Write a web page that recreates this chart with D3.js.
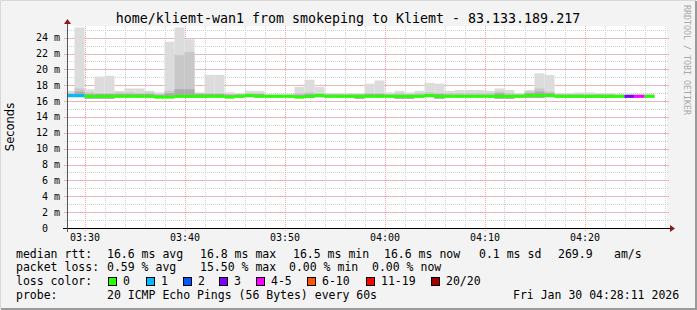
<!DOCTYPE html>
<html>
<head>
<meta charset="utf-8">
<script src="https://cdn.jsdelivr.net/npm/d3@7"></script>
<style>
  body { margin: 0; background: #f3f3f3; }
  text { font-family: "DejaVu Sans Mono", monospace; }
</style>
</head>
<body>
<div id="graph_div"></div>
<script>
// one column per minute, first column starts 03:28
let firstMinute = new Date(2026, 0, 30, 3, 28, 0)

// max ping of the 20 (outer smoke)
let smokeMax = [17.3, 25.3, 17.5, 19.1, 19.2, 17.3, 17.6, 17.6, 17.3, 17.1,
                23.5, 25.3, 23.8, 17.1, 19.3, 19.3, 17.1, 17.0, 17.3, 17.3,
                16.9, 16.9, 16.9, 17.8, 18.7, 17.8, 17.0, 17.0, 17.0, 17.0,
                18.2, 18.6, 17.1, 17.3, 17.1, 17.3, 18.3, 18.2, 17.3, 17.4,
                17.4, 17.4, 17.3, 17.6, 17.4, 17.0, 17.4, 19.5, 19.3, 17.0,
                17.0, 17.1, 17.1, 17.0, 17.0, 16.9, 16.9, 16.9, 16.9]
// upper edge of the middle smoke band
let smokeMid = [17.0, 17.6, 17.1, 17.0, 17.0, 17.1, 17.1, 17.0, 17.1, 16.9,
                17.3, 21.8, 22.2, 17.0, 17.0, 17.0, 16.9, 16.9, 17.0, 17.0,
                16.8, 16.8, 16.8, 17.0, 17.1, 17.0, 16.9, 16.9, 16.9, 16.9,
                17.0, 17.0, 16.9, 17.0, 16.9, 17.0, 17.1, 17.0, 17.0, 17.0,
                17.0, 17.0, 17.0, 17.2, 17.0, 16.9, 17.2, 17.6, 17.2, 16.9,
                16.9, 16.9, 16.9, 16.9, 16.9, 16.8, 16.8, 16.8, 16.8]
// upper edge of the inner smoke band
let smokeInner = [16.9, 17.2, 16.9, 16.9, 16.9, 16.9, 16.9, 16.9, 16.9, 16.8,
                  17.0, 17.5, 17.5, 16.9, 16.9, 16.9, 16.8, 16.8, 16.9, 16.9,
                  16.7, 16.7, 16.7, 16.8, 16.9, 16.9, 16.8, 16.8, 16.8, 16.8,
                  16.9, 16.9, 16.8, 16.8, 16.8, 16.8, 16.9, 16.9, 16.8, 16.8,
                  16.8, 16.8, 16.8, 17.0, 16.8, 16.8, 17.0, 17.2, 17.0, 16.8,
                  16.8, 16.8, 16.8, 16.8, 16.8, 16.7, 16.7, 16.7, 16.7]
// min ping of the 20
let smokeMin = [16.5, 16.5, 16.3, 16.3, 16.3, 16.5, 16.5, 16.5, 16.5, 16.4,
                16.5, 16.5, 16.4, 16.4, 16.5, 16.5, 16.5, 16.5, 16.5, 16.5,
                16.5, 16.5, 16.5, 16.4, 16.4, 16.5, 16.5, 16.5, 16.5, 16.3,
                16.5, 16.5, 16.5, 16.3, 16.3, 16.5, 16.5, 16.3, 16.5, 16.5,
                16.5, 16.5, 16.5, 16.3, 16.3, 16.5, 16.4, 16.4, 16.5, 16.5,
                16.4, 16.4, 16.4, 16.4, 16.4, 16.5, 16.4, 16.5, 16.5]
let median = [16.7, 16.7, 16.6, 16.6, 16.6, 16.6, 16.6, 16.6, 16.6, 16.5,
              16.5, 16.6, 16.6, 16.6, 16.6, 16.6, 16.5, 16.6, 16.7, 16.6,
              16.6, 16.6, 16.6, 16.5, 16.6, 16.7, 16.6, 16.6, 16.6, 16.6,
              16.6, 16.6, 16.6, 16.6, 16.6, 16.6, 16.7, 16.6, 16.6, 16.6,
              16.6, 16.6, 16.6, 16.6, 16.6, 16.6, 16.7, 16.7, 16.7, 16.6,
              16.6, 16.6, 16.6, 16.6, 16.6, 16.6, 16.6, 16.6, 16.6]
// index into lossLabels / lossColors
let lossIdx = [1, 1, 0, 0, 0, 0, 0, 0, 0, 0,
               0, 0, 0, 0, 0, 0, 0, 0, 0, 0,
               0, 0, 0, 0, 0, 0, 0, 0, 0, 0,
               0, 0, 0, 0, 0, 0, 0, 0, 0, 0,
               0, 0, 0, 0, 0, 0, 0, 0, 0, 0,
               0, 0, 0, 0, 0, 0, 3, 4, 0]

let lossLabels = ["0", "1", "2", "3", "4-5", "6-10", "11-19", "20/20"]
let lossColors = ["#26ff00", "#00b8ff", "#0059ff", "#7e00ff", "#ff00ff", "#ff5500", "#ff0000", "#a10000"]

let yTickValues = [0, 2, 4, 6, 8, 10, 12, 14, 16, 18, 20, 22, 24]
let xTickLabels = ["03:30", "03:40", "03:50", "04:00", "04:10", "04:20"]

let title = "home/kliemt-wan1 from smokeping to Kliemt - 83.133.189.217"

let width = 697
let height = 310

window.onload = function() {
  draw()
}

function draw() {

  let left = 67, right = 667, top = 26, bottom = 228

  let svg = d3.select("#graph_div")
    .append("svg")
    .attr("width", width)
    .attr("height", height)

  // background + 3d border
  svg.append("rect").attr("width", width).attr("height", height).attr("fill", "#f3f3f3")
  svg.append("path").attr("d", "M0.5," + (height - 1) + "V0.5H" + (width - 1))
    .attr("stroke", "#d8d8d8").attr("fill", "none")
  svg.append("path").attr("d", "M1," + (height - 1) + "H" + (width - 1) + "V1")
    .attr("stroke", "#9a9a9a").attr("stroke-width", 2).attr("fill", "none")

  let x = d3.scaleTime()
    .domain([new Date(2026, 0, 30, 3, 28, 15), new Date(2026, 0, 30, 4, 28, 15)])
    .range([left, right])

  let y = d3.scaleLinear()
    .domain([0, (bottom - top) / 7.93])
    .range([bottom, top])

  svg.append("rect")
    .attr("x", left).attr("y", top)
    .attr("width", right - left).attr("height", bottom - top)
    .attr("fill", "white")

  // minor grid
  let minorX = d3.timeMinute.every(2).range(x.domain()[0], x.domain()[1])
  svg.append("g").selectAll("line")
    .data(minorX)
    .join("line")
      .attr("x1", d => Math.round(x(d)) + 0.5)
      .attr("x2", d => Math.round(x(d)) + 0.5)
      .attr("y1", top)
      .attr("y2", bottom + 2)
      .attr("stroke", "#cfcfcf")
      .attr("stroke-dasharray", "1,1")

  let minorY = d3.range(1, 26, 1)
  svg.append("g").selectAll("line")
    .data(minorY)
    .join("line")
      .attr("x1", left - 2)
      .attr("x2", right + 2)
      .attr("y1", d => Math.round(y(d)) + 0.5)
      .attr("y2", d => Math.round(y(d)) + 0.5)
      .attr("stroke", "#cfcfcf")
      .attr("stroke-dasharray", "1,1")

  // major grid
  let majorX = d3.timeMinute.every(10).range(x.domain()[0], x.domain()[1])
  svg.append("g").selectAll("line")
    .data(majorX)
    .join("line")
      .attr("x1", d => Math.round(x(d)) + 0.5)
      .attr("x2", d => Math.round(x(d)) + 0.5)
      .attr("y1", top)
      .attr("y2", bottom + 3)
      .attr("stroke", "#f4a4a4")
      .attr("stroke-dasharray", "1,1")

  svg.append("g").selectAll("line")
    .data(yTickValues.filter(d => d > 0))
    .join("line")
      .attr("x1", left - 3)
      .attr("x2", right + 3)
      .attr("y1", d => Math.round(y(d)) + 0.5)
      .attr("y2", d => Math.round(y(d)) + 0.5)
      .attr("stroke", "#f4a4a4")
      .attr("stroke-dasharray", "1,1")

  // smoke + median
  let cols = median.map((m, i) => {
    let t0 = d3.timeMinute.offset(firstMinute, i)
    return {t0: t0, t1: d3.timeMinute.offset(t0, 1), i: i}
  })

  svg.append("clipPath").attr("id", "plotclip")
    .append("rect").attr("x", left).attr("y", top)
    .attr("width", right - left).attr("height", bottom - top)

  let plot = svg.append("g").attr("clip-path", "url(#plotclip)")

  const band = function(lo, hi, color) {
    plot.append("g").selectAll("rect")
      .data(cols)
      .join("rect")
        .attr("x", d => x(d.t0))
        .attr("width", d => x(d.t1) - x(d.t0))
        .attr("y", d => y(hi[d.i]))
        .attr("height", d => Math.max(0, y(lo[d.i]) - y(hi[d.i])))
        .attr("fill", color)
  }
  band(smokeMin, smokeMax, "#dcdcdc")
  band(smokeMin, smokeMid, "#c8c8c8")
  band(smokeMin, smokeInner, "#acacac")

  plot.append("g").selectAll("rect")
    .data(cols)
    .join("rect")
      .attr("x", d => x(d.t0))
      .attr("width", d => x(d.t1) - x(d.t0))
      .attr("y", d => y(median[d.i]) - 1.5)
      .attr("height", 3)
      .attr("fill", d => lossColors[lossIdx[d.i]])

  // axes
  svg.append("line")
    .attr("x1", left - 4).attr("x2", right + 3)
    .attr("y1", bottom + 0.5).attr("y2", bottom + 0.5)
    .attr("stroke", "#000")
  svg.append("path")
    .attr("d", "M" + (right + 3) + "," + (bottom - 3) + "l5,3.5l-5,3.5z")
    .attr("fill", "#8b1a1a")
  svg.append("line")
    .attr("x1", left + 0.5).attr("x2", left + 0.5)
    .attr("y1", bottom + 4).attr("y2", top - 2)
    .attr("stroke", "#555")
  svg.append("path")
    .attr("d", "M" + (left - 3) + "," + (top - 2) + "l3.5,-5l3.5,5z")
    .attr("fill", "#8b1a1a")

  // y labels
  let yl = svg.append("g").attr("font-size", "10px").attr("fill", "#000")
  yl.selectAll(".num")
    .data(yTickValues)
    .join("text")
      .attr("class", "num")
      .attr("x", 48)
      .attr("y", d => y(d) + 3.5)
      .attr("text-anchor", "end")
      .text(d => d)
  yl.selectAll(".unit")
    .data(yTickValues.filter(d => d > 0))
    .join("text")
      .attr("class", "unit")
      .attr("x", 54)
      .attr("y", d => y(d) + 3.5)
      .text("m")

  // x labels
  svg.append("g").attr("font-size", "10px")
    .selectAll("text")
    .data(majorX)
    .join("text")
      .attr("x", d => x(d) + 0.5)
      .attr("y", 241)
      .attr("text-anchor", "middle")
      .text((d, i) => xTickLabels[i])

  // title
  svg.append("text")
    .attr("x", 348).attr("y", 23)
    .attr("text-anchor", "middle")
    .attr("font-size", "13.3px")
    .text(title)

  svg.append("text")
    .attr("transform", "translate(14,127) rotate(-90)")
    .attr("text-anchor", "middle")
    .attr("font-size", "11.5px")
    .style("font-family", "'DejaVu Sans', sans-serif")
    .text("Seconds")

  svg.append("text")
    .attr("transform", "translate(684,5) rotate(90)")
    .attr("font-size", "8.3px")
    .attr("fill", "#a8a8a8")
    .text("RRDTOOL / TOBI OETIKER")

  // legend
  let lg = svg.append("g").attr("font-size", "11.5px").attr("fill", "#000")
  const put = function(px, py, s) {
    lg.append("text").attr("x", px).attr("y", py).attr("xml:space", "preserve").text(s)
  }
  put(16, 258, "median rtt:")
  put(107, 258, "16.6 ms avg")
  put(200, 258, "16.8 ms max")
  put(293, 258, "16.5 ms min")
  put(384, 258, "16.6 ms now")
  put(479, 258, "0.1 ms sd")
  put(558, 258, "269.9")
  put(614, 258, "am/s")

  put(16, 271, "packet loss:")
  put(107, 271, "0.59 % avg")
  put(200, 271, "15.50 % max")
  put(289, 271, "0.00 % min")
  put(372, 271, "0.00 % now")

  put(16, 285, "loss color:")
  let boxX = [108, 146, 183, 219, 256, 307, 366, 431]
  lossLabels.forEach((l, i) => {
    lg.append("rect")
      .attr("x", boxX[i] + 0.5).attr("y", 277.5)
      .attr("width", 8).attr("height", 8)
      .attr("fill", lossColors[i])
      .attr("stroke", "#000")
    put(boxX[i] + 15, 285, l)
  })

  put(16, 299, "probe:")
  put(107, 299, "20 ICMP Echo Pings (56 Bytes) every 60s")
  put(513, 299, "Fri Jan 30 04:28:11 2026")
}
</script>
</body>
</html>
